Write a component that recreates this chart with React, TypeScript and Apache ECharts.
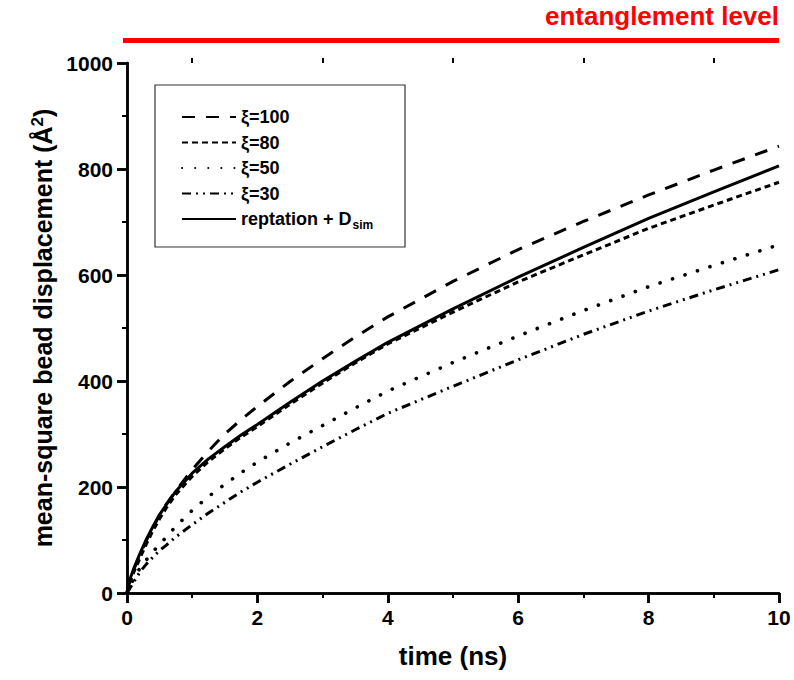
import React, { useEffect, useRef } from "react";
import * as echarts from "echarts";

const FONT = "'Liberation Sans', Arial, Helvetica, sans-serif";

const timeNs = [0, 0.02, 0.05, 0.1, 0.2, 0.3, 0.4, 0.5, 0.6, 0.75, 1, 1.25, 1.5, 1.75, 2, 2.5, 3, 3.5, 4, 5, 6, 7, 8, 9, 10];
const xi100 = [0, 13, 26, 43, 73, 100, 124, 147, 167, 193, 233, 268, 300, 327, 352, 399, 442, 483, 521, 588, 648, 701, 751, 798, 843];
const xi80 = [0, 11, 22, 38, 66, 93, 118, 140, 160, 186, 220, 248, 272, 294, 314, 356, 396, 434, 470, 530, 587, 638, 688, 732, 775];
const xi50 = [0, 6, 14, 26, 47, 63, 78, 92, 105, 126, 156, 182, 205, 227, 247, 283, 316, 349, 381, 435, 485, 533, 578, 618, 657];
const xi30 = [0, 4, 10, 20, 40, 55, 68, 80, 90, 106, 129, 151, 171, 191, 209, 243, 276, 308, 339, 390, 440, 488, 532, 572, 610];
const reptation = [0, 14, 28, 45, 75, 102, 126, 148, 166, 192, 226, 253, 276, 298, 318, 360, 400, 437, 473, 536, 596, 652, 707, 757, 806];

const seriesNames = ["ξ=100", "ξ=80", "ξ=50", "ξ=30", "reptation + Dsim"];
const xTicks = [0, 2, 4, 6, 8, 10];
const yTicks = [0, 200, 400, 600, 800, 1000];

export default function App() {
  const ref = useRef<HTMLDivElement>(null);

  useEffect(() => {
    document.body.style.margin = "0";
    if (!ref.current) return;
    const chart = echarts.init(ref.current, undefined, { renderer: "svg" });

    const pairs = (vals: number[]) => timeNs.map((t, i) => [t, vals[i]]);
    const black = "#000";
    const lineBase = (name: string, vals: number[], type: any, extra: any = {}) => ({
      name,
      type: "line",
      xAxisIndex: 0,
      yAxisIndex: 0,
      data: pairs(vals),
      showSymbol: false,
      symbol: "none",
      smooth: false,
      lineStyle: { color: black, width: 3, type, join: "round", ...extra },
      itemStyle: { color: black },
      z: 3,
    });

    const axisLine = { show: true, lineStyle: { color: black, width: 2.5 } };

    chart.setOption({
      animation: false,
      backgroundColor: "#fff",
      title: {
        text: "entanglement level",
        right: 15,
        top: 3,
        padding: 0,
        textStyle: { color: "#ff0000", fontSize: 26, fontWeight: "bold", fontFamily: FONT },
      },
      grid: { left: 127, right: 15, top: 63, bottom: 87, containLabel: false },
      legend: {
        orient: "vertical",
        left: 176,
        top: 103,
        itemWidth: 54,
        itemHeight: 18,
        itemGap: 7.5,
        selectedMode: false,
        data: seriesNames,
        itemStyle: { opacity: 0, color: "transparent", borderColor: "transparent", borderWidth: 0 },
        formatter: (name: string) => (name === "reptation + Dsim" ? "reptation + D{sub|sim}" : name),
        textStyle: {
          color: black,
          fontSize: 18,
          fontWeight: "bold",
          fontFamily: FONT,
          rich: {
            sub: { fontSize: 12, fontWeight: "bold", fontFamily: FONT, color: black, padding: [12, 0, 0, 1] },
          },
        },
      },
      xAxis: [
        {
          type: "value",
          position: "bottom",
          min: xTicks[0],
          max: xTicks[xTicks.length - 1],
          interval: 2,
          axisLine,
          axisTick: { show: true, length: 10, lineStyle: { color: black, width: 2.5 } },
          minorTick: { show: true, splitNumber: 2, length: 5, lineStyle: { color: black, width: 2 } },
          splitLine: { show: false },
          axisLabel: {
            color: black,
            fontSize: 21,
            fontWeight: "bold",
            fontFamily: FONT,
            margin: 14,
            formatter: (v: number) => String(v),
          },
          name: "time (ns)",
          nameLocation: "middle",
          nameGap: 50,
          nameTextStyle: { color: black, fontSize: 26, fontWeight: "bold", fontFamily: FONT },
        },
        {
          type: "value",
          position: "top",
          min: 0,
          max: 10,
          interval: 2,
          axisLine,
          axisTick: { show: true, inside: true, length: 10, lineStyle: { color: black, width: 2.5 } },
          axisLabel: { show: false },
          splitLine: { show: false },
        },
        {
          type: "value",
          position: "top",
          min: 0,
          max: 10,
          interval: 1,
          axisLine: { show: false },
          axisTick: { show: true, customValues: [1, 3, 5, 7, 9], length: 5, lineStyle: { color: black, width: 2 } },
          axisLabel: { show: false },
          splitLine: { show: false },
        },
      ],
      yAxis: [
        {
          type: "value",
          position: "left",
          min: yTicks[0],
          max: yTicks[yTicks.length - 1],
          interval: 200,
          axisLine,
          axisTick: { show: true, length: 10, lineStyle: { color: black, width: 2.5 } },
          minorTick: { show: true, splitNumber: 2, length: 5, lineStyle: { color: black, width: 2 } },
          splitLine: { show: false },
          axisLabel: {
            color: black,
            fontSize: 21,
            fontWeight: "bold",
            fontFamily: FONT,
            margin: 14,
            formatter: (v: number) => String(v),
          },
          name: "mean-square bead displacement (Å{sup|2})",
          nameLocation: "middle",
          nameRotate: 90,
          nameGap: 70,
          nameTextStyle: {
            color: black,
            fontSize: 25,
            fontWeight: "bold",
            fontFamily: FONT,
            rich: {
              sup: { fontSize: 17, fontWeight: "bold", fontFamily: FONT, color: black, padding: [0, 0, 10, 0] },
            },
          },
        },
        {
          type: "value",
          position: "right",
          min: 0,
          max: 1000,
          interval: 200,
          axisLine,
          axisTick: { show: true, inside: true, length: 10, lineStyle: { color: black, width: 2.5 } },
          axisLabel: { show: false },
          splitLine: { show: false },
        },
      ],
      graphic: [
        {
          type: "line",
          shape: { x1: 123, y1: 40.5, x2: 779, y2: 40.5 },
          style: { stroke: "#ff0000", lineWidth: 5 },
        },
        {
          type: "rect",
          shape: { x: 155, y: 85, width: 250, height: 162 },
          style: { fill: "#fff", stroke: "#333", lineWidth: 1.2 },
          z: 1,
        },
      ],
      series: [
        lineBase(seriesNames[0], xi100, [13, 11]),
        lineBase(seriesNames[1], xi80, [6, 4]),
        lineBase(seriesNames[2], xi50, [0.1, 13], { cap: "round", width: 3.6 }),
        lineBase(seriesNames[3], xi30, [9, 5, 2, 5, 2, 5]),
        lineBase(seriesNames[4], reptation, "solid"),
      ],
    });

    return () => chart.dispose();
  }, []);

  return <div ref={ref} style={{ width: 794, height: 680 }} />;
}
